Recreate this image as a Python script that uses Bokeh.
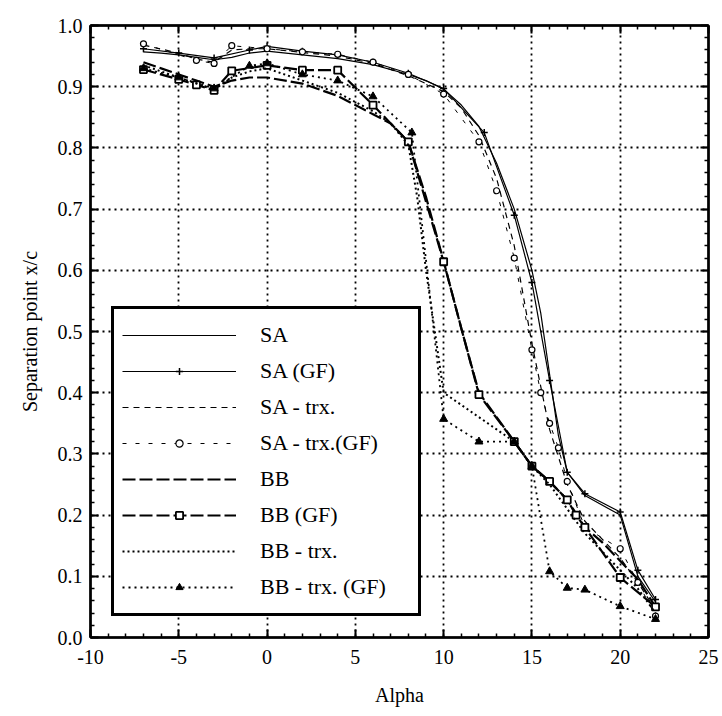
from bokeh.plotting import figure
from bokeh.models import (LinearAxis, Legend, LegendItem, Range1d,
                          SingleIntervalTicker, PrintfTickFormatter, CustomJSTickFormatter)
from bokeh.embed import file_html
from bokeh.resources import INLINE

# ---- data ----
sa_x = [-7, -6, -5, -4, -3, -2, -1, 0, 2, 4, 6, 8, 9, 10, 11, 12, 13, 14, 15, 15.5, 16, 16.5, 17, 18, 20, 21, 22]
sa_y = [0.957, 0.955, 0.952, 0.948, 0.944, 0.948, 0.955, 0.958, 0.952, 0.946, 0.936, 0.92, 0.91, 0.896, 0.87, 0.835, 0.775, 0.70, 0.60, 0.53, 0.43, 0.33, 0.27, 0.232, 0.20, 0.10, 0.058]

sagf_x = [-7, -5, -3, -1, 0, 2, 4, 6, 8, 10, 12.3, 14, 15, 16, 17, 18, 20, 21, 22]
sagf_y = [0.962, 0.955, 0.947, 0.96, 0.966, 0.958, 0.952, 0.94, 0.922, 0.897, 0.825, 0.69, 0.58, 0.42, 0.27, 0.235, 0.205, 0.11, 0.062]

satr_x = [-7, -5, -4, -3, -2, -1, 0, 2, 4, 6, 8, 10, 11, 12, 13, 14, 15, 16, 17, 18, 20, 21, 22]
satr_y = [0.968, 0.955, 0.945, 0.94, 0.96, 0.962, 0.962, 0.956, 0.95, 0.938, 0.918, 0.892, 0.865, 0.82, 0.75, 0.64, 0.48, 0.34, 0.25, 0.19, 0.13, 0.09, 0.045]

satrgf_x = [-7, -4, -3, -2, 0, 2, 4, 6, 8, 10, 12, 13, 14, 15, 15.5, 16, 16.5, 17, 18, 20, 21, 22]
satrgf_y = [0.97, 0.943, 0.938, 0.967, 0.962, 0.957, 0.953, 0.94, 0.92, 0.888, 0.81, 0.73, 0.62, 0.47, 0.40, 0.35, 0.31, 0.255, 0.18, 0.145, 0.09, 0.035]

bb_x = [-7, -6, -5, -4, -3, -2, -1, 0, 2, 4, 5, 6, 7, 8, 9, 10, 11, 12, 13, 14, 15, 16, 17, 18, 19, 20, 21, 22]
bb_y = [0.94, 0.93, 0.92, 0.91, 0.90, 0.91, 0.915, 0.915, 0.905, 0.885, 0.87, 0.855, 0.84, 0.81, 0.72, 0.615, 0.505, 0.40, 0.36, 0.32, 0.28, 0.255, 0.225, 0.18, 0.155, 0.125, 0.095, 0.05]

bbgf_x = [-7, -5, -4, -3, -2, 0, 2, 4, 6, 8, 10, 12, 14, 15, 16, 17, 17.5, 18, 20, 22]
bbgf_y = [0.928, 0.912, 0.903, 0.894, 0.926, 0.935, 0.927, 0.927, 0.87, 0.81, 0.614, 0.397, 0.32, 0.28, 0.255, 0.225, 0.20, 0.18, 0.098, 0.05]

bbtr_x = [-7, -6, -5, -4, -3, -2, -1, 0, 2, 4, 6, 7, 8, 8.5, 9, 9.5, 10, 11, 12, 13, 14, 15, 16, 17, 18, 20, 21, 22]
bbtr_y = [0.935, 0.925, 0.915, 0.905, 0.895, 0.915, 0.925, 0.93, 0.91, 0.89, 0.86, 0.84, 0.805, 0.72, 0.60, 0.50, 0.40, 0.38, 0.36, 0.34, 0.32, 0.28, 0.25, 0.21, 0.17, 0.11, 0.08, 0.04]

bbtrgf_x = [-7, -5, -3, -1, 0, 2, 4, 6, 8.2, 10, 12, 14, 15, 16, 17, 18, 20, 22]
bbtrgf_y = [0.93, 0.915, 0.897, 0.934, 0.938, 0.92, 0.91, 0.884, 0.825, 0.357, 0.32, 0.32, 0.28, 0.108, 0.081, 0.078, 0.051, 0.03]

labels = ["SA", "SA (GF)", "SA - trx.", "SA - trx.(GF)", "BB", "BB (GF)", "BB - trx.", "BB - trx. (GF)"]

FONT = "Liberation Serif"

p = figure(width=722, height=716, output_backend="svg", toolbar_location=None,
           x_range=Range1d(-10, 25), y_range=Range1d(0, 1.0),
           min_border_left=90, min_border_right=14, min_border_top=25, min_border_bottom=79,
           x_axis_label="Alpha", y_axis_label="Separation point x/c")
p.background_fill_color = "white"
p.border_fill_color = "white"
p.outline_line_color = "black"
p.outline_line_width = 2

xt = SingleIntervalTicker(interval=5, num_minor_ticks=5)
yt = SingleIntervalTicker(interval=0.1, num_minor_ticks=5)

def style_axis(ax):
    ax.axis_line_width = 2.5
    ax.axis_line_color = "black"
    ax.major_tick_in = 8
    ax.major_tick_out = 0
    ax.minor_tick_in = 4
    ax.minor_tick_out = 0
    ax.major_tick_line_width = 2
    ax.minor_tick_line_width = 1.5
    ax.major_tick_line_color = "black"
    ax.minor_tick_line_color = "black"
    ax.major_label_text_font = FONT
    ax.major_label_text_font_size = "20px"
    ax.major_label_text_color = "black"
    ax.axis_label_text_font = FONT
    ax.axis_label_text_font_style = "normal"
    ax.axis_label_text_font_size = "20px"
    ax.axis_label_text_color = "black"

p.xaxis.ticker = xt
p.yaxis.ticker = yt
p.xaxis.formatter = PrintfTickFormatter(format="%d")
p.yaxis.formatter = PrintfTickFormatter(format="%.1f")
style_axis(p.xaxis[0])
style_axis(p.yaxis[0])
p.xaxis.major_label_standoff = 12
p.xaxis.axis_label_standoff = 17
p.yaxis.major_label_standoff = 8
p.yaxis.axis_label_standoff = 14

blank = CustomJSTickFormatter(code="return '';")
top_ax = LinearAxis(ticker=xt, formatter=blank)
style_axis(top_ax)
p.add_layout(top_ax, "above")
right_ax = LinearAxis(ticker=yt, formatter=blank)
style_axis(right_ax)
p.add_layout(right_ax, "right")

for g, t in ((p.xgrid[0], xt), (p.ygrid[0], yt)):
    g.ticker = t
    g.grid_line_color = "black"
    g.grid_line_dash = "2 4"
    g.grid_line_width = 1.8

items = []
# SA
r1 = p.line(sa_x, sa_y, line_color="black", line_width=1.2)
items.append(LegendItem(label=labels[0], renderers=[r1]))
# SA (GF)
r2 = p.line(sagf_x, sagf_y, line_color="black", line_width=1.2)
m2 = p.scatter(sagf_x, sagf_y, marker="cross", size=7, line_color="black", line_width=1.5)
items.append(LegendItem(label=labels[1], renderers=[r2, m2]))
# SA - trx.
r3 = p.line(satr_x, satr_y, line_color="black", line_width=1.2, line_dash="6 5")
items.append(LegendItem(label=labels[2], renderers=[r3]))
# SA - trx. (GF)
r4 = p.line(satrgf_x, satrgf_y, line_color="black", line_width=1, line_dash="4 9")
m4 = p.scatter(satrgf_x, satrgf_y, marker="circle", size=6, line_color="black", fill_color="white", line_width=1.2)
items.append(LegendItem(label=labels[3], renderers=[r4, m4]))
# BB
r5 = p.line(bb_x, bb_y, line_color="black", line_width=2.2, line_dash="13 4")
items.append(LegendItem(label=labels[4], renderers=[r5]))
# BB (GF)
r6 = p.line(bbgf_x, bbgf_y, line_color="black", line_width=2.2, line_dash="13 4")
m6 = p.scatter(bbgf_x, bbgf_y, marker="square", size=7, line_color="black", fill_color="white", line_width=1.8)
items.append(LegendItem(label=labels[5], renderers=[r6, m6]))
# BB - trx.
r7 = p.line(bbtr_x, bbtr_y, line_color="black", line_width=2, line_dash="2 3")
items.append(LegendItem(label=labels[6], renderers=[r7]))
# BB - trx. (GF)
r8 = p.line(bbtrgf_x, bbtrgf_y, line_color="black", line_width=1.8, line_dash="2 4")
m8 = p.scatter(bbtrgf_x, bbtrgf_y, marker="triangle", size=8, line_color="black", fill_color="black")
items.append(LegendItem(label=labels[7], renderers=[r8, m8]))

legend = Legend(items=items, location=(21, 21),
                label_text_font=FONT, label_text_font_size="22px", label_text_color="black",
                glyph_width=114, glyph_height=18, label_height=36, label_width=150,
                label_standoff=24, padding=8, spacing=0, margin=0,
                border_line_color="black", border_line_width=3, border_line_alpha=1.0,
                background_fill_color="white", background_fill_alpha=1.0)
p.add_layout(legend)

open("out.html", "w").write(file_html(p, INLINE))
